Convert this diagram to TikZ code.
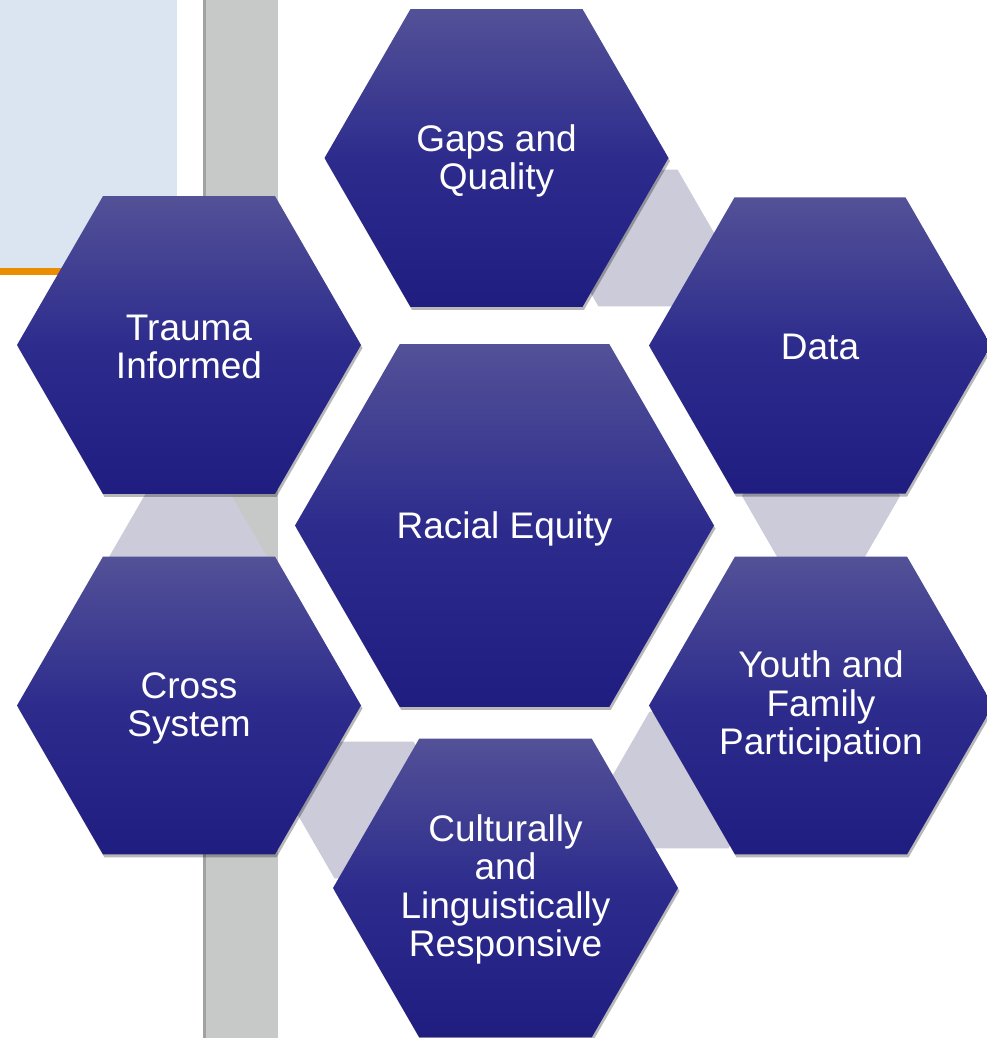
\documentclass[tikz,border=0pt]{standalone}
\usepackage{fontspec}
\setmainfont{Liberation Sans}
\usetikzlibrary{shapes.geometric,shadows}
\definecolor{hexTop}{RGB}{83,81,151}
\definecolor{hexMid}{RGB}{45,44,141}
\definecolor{hexBot}{RGB}{31,29,128}
\definecolor{linkGray}{RGB}{203,203,217}
\definecolor{barGray}{RGB}{199,201,201}
\definecolor{barEdge}{RGB}{160,162,162}
\definecolor{paleBlue}{RGB}{219,229,241}
\definecolor{accentOrange}{RGB}{236,140,0}
\tikzset{
  bighex/.style={regular polygon, regular polygon sides=6, minimum size=#1,
    inner sep=0pt, outer sep=0pt, draw=none,
    top color=hexTop, bottom color=hexBot, middle color=hexMid,
    drop shadow={shadow xshift=1.5pt, shadow yshift=-3pt, opacity=0.28, fill=black}},
  linkhex/.style={regular polygon, regular polygon sides=6, minimum size=158pt,
    inner sep=0pt, outer sep=0pt, draw=none, fill=linkGray},
  hextext/.style={text=white, align=center, inner sep=0pt,
    font=\fontsize{37}{38.5}\selectfont}
}
\begin{document}
\begin{tikzpicture}[x=1pt,y=-1pt]
\useasboundingbox (0,0) rectangle (986,1038);
\fill[white] (0,0) rectangle (986,1038);
% left decorations
\fill[paleBlue] (0,0) rectangle (177,268);
\fill[accentOrange] (0,268) rectangle (177,275);
\fill[barGray] (203,0) rectangle (278,1038);
\fill[barEdge] (203,0) rectangle (205.5,1038);
% grey link hexagons
\node[linkhex] (l1) at (638,238) {};
\node[linkhex] (l2) at (821,496) {};
\node[linkhex] (l3) at (689,780) {};
\node[linkhex] (l4) at (374,810) {};
\node[linkhex] (l5) at (188,557) {};
% main hexagons
\node[bighex=344pt] (gaps) at (496.5,158) {};
\node[bighex=344pt] (trauma) at (189,345) {};
\node[bighex=342pt] (data) at (820,345.5) {};
\node[bighex=419pt] (racial) at (504.5,525.5) {};
\node[bighex=344pt] (cross) at (189,705.5) {};
\node[bighex=344pt] (youth) at (821,705.5) {};
\node[bighex=345pt] (cult) at (505.5,888) {};
% labels
\node[hextext] (tgaps) at ([yshift=-3pt]gaps.center) {Gaps and\\Quality};
\node[hextext] (ttrauma) at ([yshift=-2pt]trauma.center) {Trauma\\Informed};
\node[hextext] (tdata) at ([yshift=-1pt]data.center) {Data};
\node[hextext] (tracial) at ([yshift=-3pt]racial.center) {Racial Equity};
\node[hextext] (tcross) at ([yshift=-3pt]cross.center) {Cross\\System};
\node[hextext] (tyouth) at ([yshift=-1pt]youth.center) {Youth and\\Family\\Participation};
\node[hextext] (tcult) at ([yshift=-1.5pt]cult.center) {Culturally\\and\\Linguistically\\Responsive};
\end{tikzpicture}
\end{document}
